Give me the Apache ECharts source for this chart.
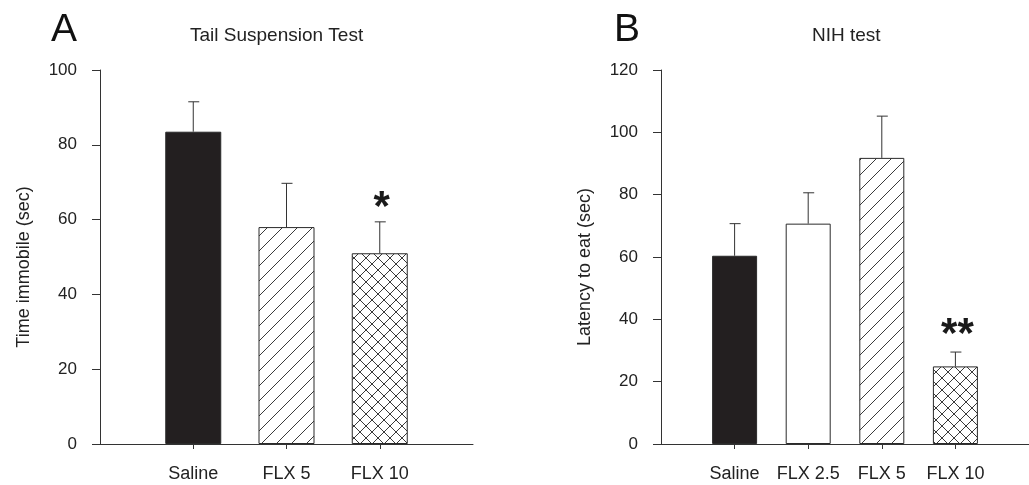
<!DOCTYPE html>
<html>
<head>
<meta charset="utf-8">
<script src="https://cdn.jsdelivr.net/npm/echarts@6/dist/echarts.min.js"></script>
<style>
  html, body { margin: 0; padding: 0; background: #fff; }
  #chart { width: 1029px; height: 485px; }
</style>
</head>
<body>
<div id="chart"></div>
<script>
// panel A: tail suspension test
const catsA = ['Saline', 'FLX 5', 'FLX 10']
const meanA = [83.5, 58.0, 51.0]
const errTopA = [91.5, 69.7, 59.4]
const sigA = ['', '', '*']
const yTicksA = [0, 20, 40, 60, 80, 100]

// panel B: NIH test
const catsB = ['Saline', 'FLX 2.5', 'FLX 5', 'FLX 10']
const meanB = [60.4, 70.7, 91.8, 24.9]
const errTopB = [70.7, 80.6, 105.2, 29.5]
const sigB = ['', '', '', '**']
const yTicksB = [0, 20, 40, 60, 80, 100, 120]

const FONT = '"Liberation Sans", Arial, sans-serif'
const INK = '#333'

function hatch(cross) {
  const s = cross ? 12 : 15
  const c = document.createElement('canvas')
  c.width = s
  c.height = s
  const g = c.getContext('2d')
  g.fillStyle = '#fff'
  g.fillRect(0, 0, s, s)
  g.strokeStyle = '#3a3a3a'
  g.lineWidth = 1
  g.beginPath()
  g.moveTo(-1, s + 1); g.lineTo(s + 1, -1)
  if (cross) { g.moveTo(-1, -1); g.lineTo(s + 1, s + 1) }
  g.stroke()
  return { image: c, repeat: 'repeat' }
}

const solid = '#231f20'
const open = '#fff'
const diag = hatch(false)
const xhatch = hatch(true)
const fillsA = [solid, diag, xhatch]
const fillsB = [solid, open, diag, xhatch]

// pad with an empty slot each side so bars sit on the tick points
const pad = (arr, v) => [v, ...arr, v]
const inner = (n) => (i) => i > 0 && i < n + 1

function xAxis(cats, idx) {
  return {
    type: 'category', gridIndex: idx, data: pad(cats, ''), boundaryGap: false,
    axisLine: { lineStyle: { color: INK, width: 1 } },
    axisTick: { interval: inner(cats.length), length: 5, lineStyle: { color: INK } },
    axisLabel: { interval: inner(cats.length), margin: 21, fontSize: 18, color: '#222', fontFamily: FONT },
    splitLine: { show: false }
  }
}

function yAxis(ticks, name, idx) {
  return {
    type: 'value', gridIndex: idx, min: ticks[0], max: ticks[ticks.length - 1], interval: ticks[1] - ticks[0],
    name: name, nameLocation: 'middle', nameGap: 67,
    nameTextStyle: { fontSize: 18, color: '#222', fontFamily: FONT, padding: [0, 20, 0, 0] },
    axisLine: { show: true, lineStyle: { color: INK, width: 1 } },
    axisTick: { show: true, length: 8, lineStyle: { color: INK } },
    axisLabel: { margin: 23, fontSize: 17, color: '#222', fontFamily: FONT },
    splitLine: { show: false }
  }
}

function bars(means, fills, width, idx) {
  return {
    type: 'bar', xAxisIndex: idx, yAxisIndex: idx, barWidth: width, z: 2,
    data: pad(means.map((v, i) => ({
      value: v,
      itemStyle: { color: fills[i], borderColor: '#2a2a2a', borderWidth: 1 }
    })), '-')
  }
}

function errors(means, tops, sig, starLift, idx) {
  return {
    type: 'custom', xAxisIndex: idx, yAxisIndex: idx, z: 3,
    data: means.map((m, i) => [i + 1, m, tops[i]]),
    renderItem: (params, api) => {
      const x = api.value(0)
      const a = api.coord([x, api.value(1)])
      const b = api.coord([x, api.value(2)])
      const kids = [
        { type: 'line', shape: { x1: a[0], y1: a[1], x2: b[0], y2: b[1] }, style: { stroke: INK, lineWidth: 1 } },
        { type: 'line', shape: { x1: b[0] - 5, y1: b[1], x2: b[0] + 6, y2: b[1] }, style: { stroke: INK, lineWidth: 1 } }
      ]
      const s = sig[params.dataIndex]
      if (s) {
        kids.push({
          type: 'text',
          style: {
            text: s, x: b[0] + 2, y: b[1] - starLift, align: 'center', verticalAlign: 'bottom',
            font: 'bold 42px ' + FONT, fill: '#1a1a1a'
          }
        })
      }
      return { type: 'group', children: kids }
    }
  }
}

const chart = echarts.init(document.getElementById('chart'), null, { renderer: 'canvas' })

chart.setOption({
  backgroundColor: '#fff',
  animation: false,
  title: [
    { text: 'A', left: 46, top: 6, textStyle: { fontSize: 39, fontWeight: 'normal', color: '#111', fontFamily: FONT } },
    { text: 'Tail Suspension Test', left: 185, top: 21, textStyle: { fontSize: 19, fontWeight: 'normal', color: '#222', fontFamily: FONT } },
    { text: 'B', left: 609, top: 6, textStyle: { fontSize: 39, fontWeight: 'normal', color: '#111', fontFamily: FONT } },
    { text: 'NIH test', left: 807, top: 21, textStyle: { fontSize: 19, fontWeight: 'normal', color: '#222', fontFamily: FONT } }
  ],
  grid: [
    { left: 100, top: 70, width: 373, height: 374 },
    { left: 661, top: 70, width: 375, height: 374 }
  ],
  xAxis: [xAxis(catsA, 0), xAxis(catsB, 1)],
  yAxis: [
    yAxis(yTicksA, 'Time immobile (sec)', 0),
    yAxis(yTicksB, 'Latency to eat (sec)', 1)
  ],
  series: [
    bars(meanA, fillsA, 56, 0),
    errors(meanA, errTopA, sigA, -8, 0),
    bars(meanB, fillsB, 45, 1),
    errors(meanB, errTopB, sigB, -4, 1)
  ]
})

window.addEventListener('resize', () => chart.resize())
</script>
</body>
</html>
